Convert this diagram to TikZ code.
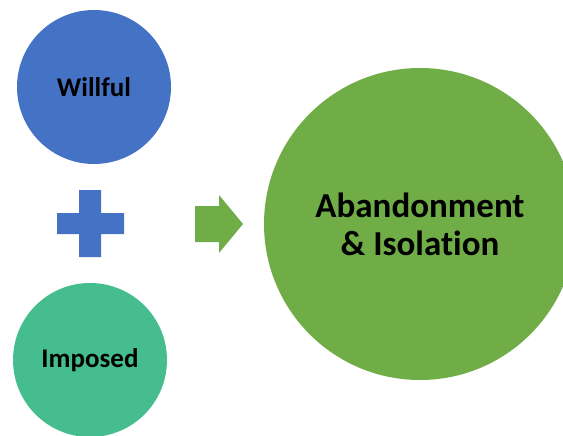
\documentclass[tikz,border=0pt]{standalone}
\usepackage{fontspec}
\setmainfont{Carlito}[RawFeature={-liga;-clig;-calt}]
\usepackage{tikz}
\usetikzlibrary{calc}

\definecolor{willblue}{HTML}{4472C4}
\definecolor{imposeteal}{HTML}{45BD8E}
\definecolor{resultgreen}{HTML}{70AD47}

\begin{document}
\begin{tikzpicture}[x=1pt, y=-1pt,
   main node/.style={circle, inner sep=0pt, font=\bfseries\fontsize{27}{30}\selectfont, text=black},
   big node/.style={main node, align=center, font=\bfseries\fontsize{35}{38}\selectfont}]
   \useasboundingbox (0,0) rectangle (563,436);
   \node[main node, fill=willblue, minimum size=154pt]     (willful) at (94,87)   {Willful};
   \node[main node, fill=imposeteal, minimum size=154pt]   (imposed) at (90,360)  {Imposed};
   \node[big node, fill=resultgreen, minimum size=312pt]   (result)  at (420,224) {Abandonment\\\& Isolation};

   % plus sign
   \fill[willblue] (79,190) -- (101,190) -- (101,213) -- (124,213) -- (124,234) -- (101,234)
      -- (101,257) -- (79,257) -- (79,234) -- (57,234) -- (57,213) -- (79,213) -- cycle;
   % arrow
   \fill[resultgreen] (195,206) -- (219,206) -- (219,195) -- (243,224) -- (219,253)
      -- (219,242) -- (195,242) -- cycle;
\end{tikzpicture}
\end{document}
